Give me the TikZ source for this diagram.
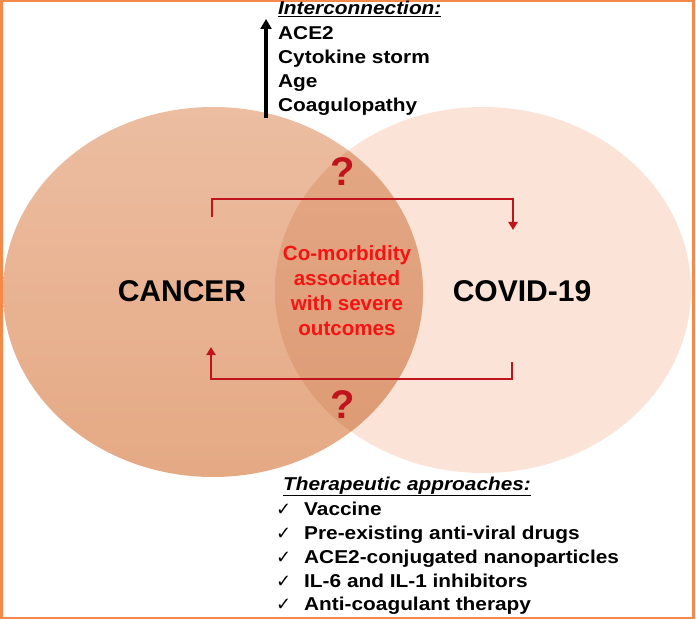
\documentclass[tikz,border=0pt]{standalone}
\usepackage{fontspec}
\setmainfont{Liberation Sans}
\newfontfamily\checkfont{DejaVu Sans}
\usetikzlibrary{arrows.meta}

\definecolor{frameorange}{HTML}{F4894A}
\definecolor{cancertop}{HTML}{ECBDA1}
\definecolor{cancerbot}{HTML}{E5A984}
\definecolor{covidfill}{HTML}{FBE4D7}
\definecolor{lenstop}{HTML}{E4A886}
\definecolor{lensbot}{HTML}{DC9A73}
\definecolor{linkred}{HTML}{C0141C}
\definecolor{textred}{HTML}{F41414}

\newcommand{\wider}[1]{\scalebox{1.12}[1]{#1}}
\newcommand{\checkitem}{\makebox[28pt][l]{\checkfont\fontsize{18}{20}\selectfont ✓}}

\tikzset{
    listtext/.style={anchor=base west, inner sep=0pt, font=\bfseries\fontsize{18.6}{24}\selectfont},
    bigword/.style={inner sep=0pt, font=\bfseries\fontsize{30}{36}\selectfont},
    query/.style={inner sep=0pt, text=linkred, font=\bfseries\fontsize{40}{44}\selectfont},
    redlink/.style={draw=linkred, line width=2.6pt, -{Triangle[length=8pt,width=9pt]}},
}

\begin{document}
\begin{tikzpicture}[x=1pt,y=-1pt]
        \useasboundingbox (0,0) rectangle (696,620);
        \draw[frameorange, line width=2.5pt] (1.25,1.25) rectangle (693.5,618);
        % the two sets
        \fill[covidfill] (483,290) ellipse [x radius=208, y radius=183];
        \shade[top color=cancertop, bottom color=cancerbot] (213,292) ellipse [x radius=210, y radius=185];
        \begin{scope}
            \clip (213,292) ellipse [x radius=210, y radius=185];
            \shade[top color=lenstop, bottom color=lensbot] (483,290) ellipse [x radius=208, y radius=183];
        \end{scope}
        \node[bigword] (cancer) at (182,291) {CANCER};
        \node[bigword] (covid) at (522,291) {COVID-19};
        \node[inner sep=0pt, align=center, text=textred, font=\bfseries\fontsize{20.6}{25}\selectfont] (comorb) at (347,291) {Co-morbidity\\associated\\with severe\\outcomes};
        \node[query] (qtop) at (343,172) {?};
        \node[query] (qbot) at (343,405) {?};
        % links between the sets
        \coordinate (topL) at (212,217);
        \coordinate (topR) at (513,230);
        \coordinate (botR) at (512,362);
        \coordinate (botL) at (211,347);
        \draw[redlink] (topL) -- ++(0,-18) -| (topR);
        \draw[redlink] (botR) -- ++(0,17) -| (botL);
        % interconnection list
        \coordinate (rise) at (266,118);
        \coordinate (peak) at (266,19);
        \draw[line width=3.5pt, -{Triangle[length=10pt,width=11pt]}] (rise) -- (peak);
        \node[listtext] (inter) at (278,15) {\wider{\underline{\textit{Interconnection:}}}};
        \node[listtext] (ace) at (278,40) {\wider{ACE2}};
        \node[listtext] (cytokine) at (278,64) {\wider{Cytokine storm}};
        \node[listtext] (age) at (278,88) {\wider{Age}};
        \node[listtext] (coag) at (278,112) {\wider{Coagulopathy}};
        % therapeutic list
        \node[listtext] (therapy) at (283,490) {\wider{\underline{\textit{Therapeutic approaches:}}}};
        \node[listtext] (vaccine) at (276,515) {\checkitem\wider{Vaccine}};
        \node[listtext] (antiviral) at (276,539) {\checkitem\wider{Pre-existing anti-viral drugs}};
        \node[listtext] (nano) at (276,563) {\checkitem\wider{ACE2-conjugated nanoparticles}};
        \node[listtext] (inhib) at (276,587) {\checkitem\wider{IL-6 and IL-1 inhibitors}};
        \node[listtext] (anticoag) at (276,610) {\checkitem\wider{Anti-coagulant therapy}};
    \end{tikzpicture}
\end{document}
